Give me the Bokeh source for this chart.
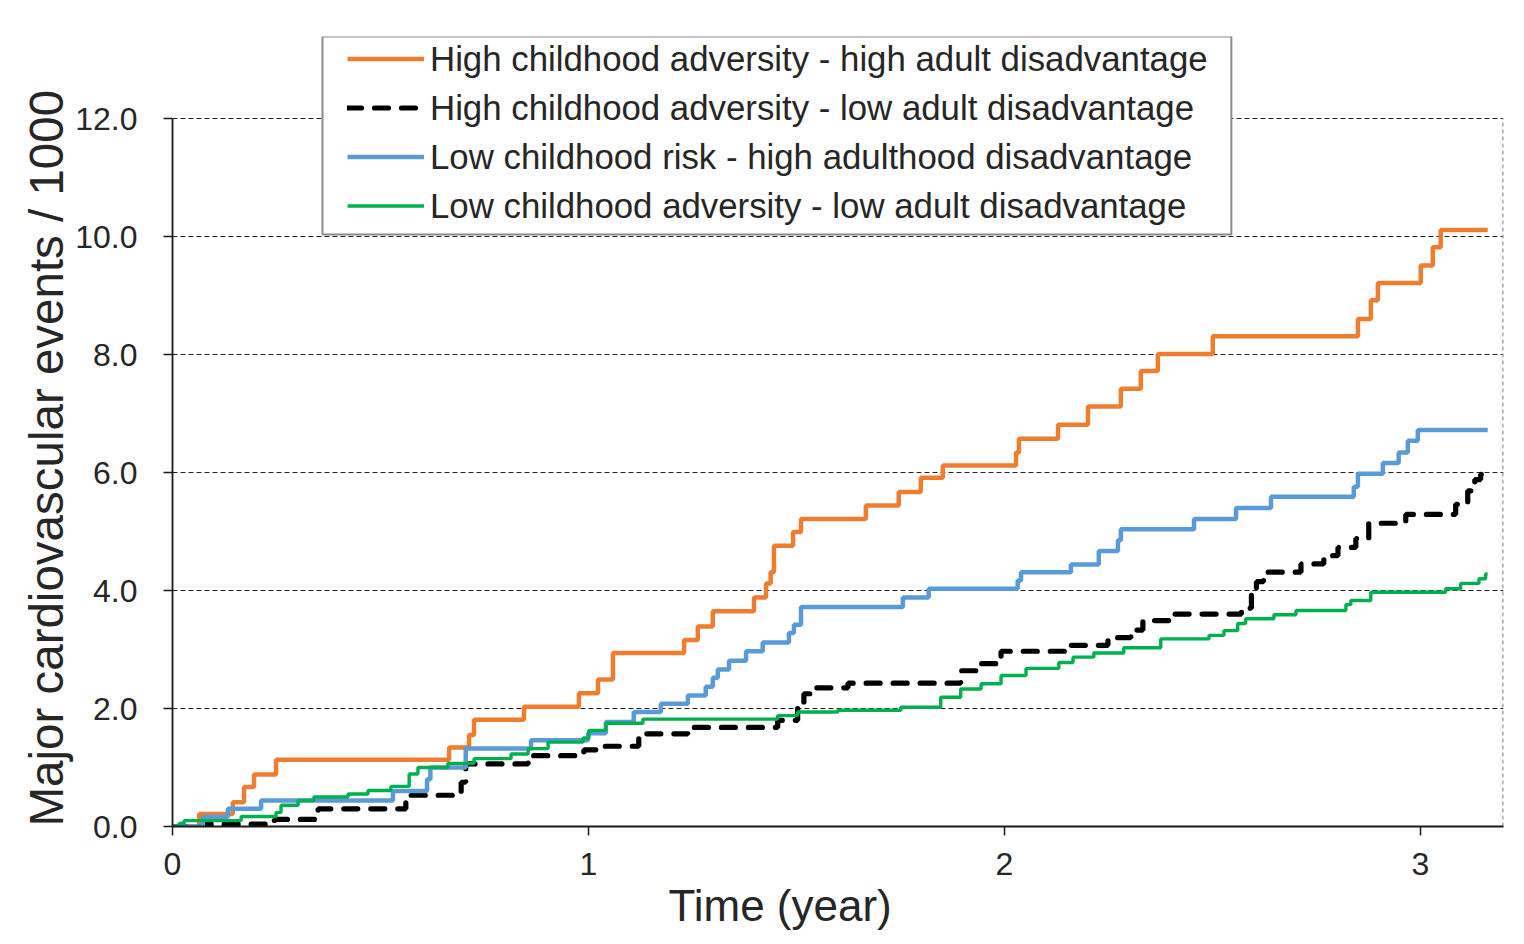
from bokeh.plotting import figure
from bokeh.models import (FixedTicker, PrintfTickFormatter, Legend, LegendItem,
                          BoxAnnotation, Title, Range1d)
from bokeh.embed import file_html
from bokeh.resources import INLINE

# ---------------- data ----------------
series_labels = [
    "High childhood adversity - high adult disadvantage",
    "High childhood adversity - low adult disadvantage",
    "Low childhood risk - high adulthood disadvantage",
    "Low childhood adversity - low adult disadvantage",
]

t_hh = [0, 0.064, 0.145, 0.172, 0.196, 0.249, 0.665, 0.713, 0.725, 0.845, 0.977,
        1.023, 1.059, 1.230, 1.263, 1.299, 1.398, 1.427, 1.438, 1.446, 1.492,
        1.511, 1.667, 1.746, 1.799, 1.852, 2.028, 2.035, 2.129, 2.201, 2.280,
        2.328, 2.369, 2.501, 2.850, 2.881, 2.898, 3.001, 3.030, 3.049, 3.162]
v_hh = [0, 0.21, 0.41, 0.67, 0.88, 1.13, 1.34, 1.55, 1.81, 2.03, 2.26,
        2.49, 2.94, 3.16, 3.39, 3.65, 3.88, 4.12, 4.31, 4.76, 4.99,
        5.21, 5.44, 5.67, 5.91, 6.12, 6.34, 6.57, 6.81, 7.12, 7.42,
        7.72, 8.01, 8.31, 8.60, 8.92, 9.21, 9.51, 9.82, 10.11, 10.11]

t_hl = [0, 0.076, 0.245, 0.350, 0.561, 0.694, 0.705, 0.855, 0.989, 1.030,
        1.121, 1.239, 1.455, 1.503, 1.518, 1.542, 1.624, 1.895, 1.944, 1.992,
        2.160, 2.249, 2.304, 2.333, 2.405, 2.570, 2.594, 2.606, 2.623, 2.713,
        2.768, 2.802, 2.845, 2.876, 2.965, 3.085, 3.114, 3.131, 3.145, 3.162]
v_hl = [0, 0.04, 0.12, 0.30, 0.53, 0.75, 1.06, 1.20, 1.30, 1.36,
        1.57, 1.68, 1.80, 2.05, 2.25, 2.35, 2.43, 2.64, 2.76, 2.97,
        3.07, 3.20, 3.33, 3.49, 3.60, 3.70, 3.93, 4.15, 4.31, 4.45,
        4.59, 4.73, 4.88, 5.14, 5.29, 5.46, 5.69, 5.88, 5.97, 5.97]

t_lh = [0, 0.073, 0.133, 0.213, 0.530, 0.612, 0.620, 0.705, 0.862, 0.999,
        1.042, 1.109, 1.174, 1.239, 1.282, 1.299, 1.311, 1.338, 1.379, 1.419,
        1.482, 1.494, 1.511, 1.756, 1.818, 2.032, 2.040, 2.160, 2.227, 2.273,
        2.280, 2.456, 2.557, 2.641, 2.840, 2.850, 2.910, 2.948, 2.970, 2.994, 3.162]
v_lh = [0, 0.16, 0.30, 0.44, 0.60, 0.80, 1.00, 1.32, 1.46, 1.58,
        1.77, 1.94, 2.08, 2.22, 2.37, 2.52, 2.66, 2.81, 2.97, 3.12,
        3.28, 3.42, 3.72, 3.88, 4.03, 4.17, 4.31, 4.44, 4.67, 4.85,
        5.04, 5.21, 5.40, 5.59, 5.76, 5.98, 6.16, 6.34, 6.54, 6.72, 6.72]

t_ll = [0, 0.016, 0.028, 0.165, 0.249, 0.261, 0.302, 0.340, 0.422, 0.470,
        0.525, 0.569, 0.590, 0.662, 0.725, 0.814, 0.855, 0.903, 0.987, 1.001,
        1.042, 1.131, 1.455, 1.503, 1.600, 1.751, 1.847, 1.895, 1.944, 1.992,
        2.052, 2.131, 2.165, 2.215, 2.287, 2.376, 2.492, 2.528, 2.561, 2.580,
        2.648, 2.701, 2.821, 2.833, 2.881, 3.061, 3.097, 3.141, 3.157, 3.162]
v_ll = [0, 0.05, 0.10, 0.17, 0.24, 0.36, 0.44, 0.50, 0.55, 0.61,
        0.68, 0.89, 1.00, 1.07, 1.15, 1.23, 1.32, 1.43, 1.50, 1.63,
        1.75, 1.82, 1.88, 1.94, 1.97, 2.02, 2.19, 2.33, 2.42, 2.56,
        2.68, 2.78, 2.87, 2.94, 3.03, 3.18, 3.24, 3.32, 3.44, 3.52,
        3.59, 3.66, 3.76, 3.83, 3.97, 4.03, 4.12, 4.20, 4.28, 4.28]

y_ticks = [0, 2, 4, 6, 8, 10, 12]
x_ticks = [0, 1, 2, 3]
x_title = "Time  (year)"
y_title = "Major cardiovascular events / 1000"

FONT = "Liberation Sans"
TXT = "#262626"

X_MAX = 3.2
Y_AXIS_MAX = 12
Y_VIEW_MAX = 13.39   # headroom above the axis so the legend box fits

# ---------------- figure ----------------
p = figure(width=1520, height=940, output_backend="svg", toolbar_location=None,
           x_range=Range1d(0, X_MAX), y_range=Range1d(0, Y_VIEW_MAX),
           min_border_left=172, min_border_right=17,
           min_border_top=36, min_border_bottom=114)
p.background_fill_color = "white"
p.border_fill_color = "white"
p.outline_line_color = None

# grid
p.xgrid.grid_line_color = None
p.ygrid.ticker = FixedTicker(ticks=y_ticks)
p.ygrid.grid_line_color = "#222222"
p.ygrid.grid_line_dash = "5 3"
p.ygrid.grid_line_width = 1.2

# right edge of plot area (dashed grey)
p.segment(x0=[X_MAX], y0=[0], x1=[X_MAX], y1=[Y_AXIS_MAX],
          line_color="#9a9a9a", line_dash="4 3", line_width=2.6)

# axes
for ax in (p.xaxis[0], p.yaxis[0]):
    ax.axis_line_color = "#1a1a1a"
    ax.axis_line_width = 1.8
    ax.major_tick_line_color = "#1a1a1a"
    ax.major_tick_line_width = 1.5
    ax.major_tick_out = 9
    ax.major_tick_in = 0
    ax.minor_tick_line_color = None
    ax.major_label_text_font = FONT
    ax.major_label_text_font_size = "32px"
    ax.major_label_text_color = TXT

p.xaxis.ticker = FixedTicker(ticks=x_ticks)
p.xaxis.major_label_standoff = 17
p.yaxis.ticker = FixedTicker(ticks=y_ticks)
p.yaxis.bounds = (0, Y_AXIS_MAX)
p.yaxis.formatter = PrintfTickFormatter(format="%.1f")
p.yaxis.major_label_standoff = 26

# series
r_hh = p.step(t_hh, v_hh, mode="after", line_color="#ED7D31", line_width=4.5)
r_hl = p.step(t_hl, v_hl, mode="after", line_color="#000000", line_width=5.2,
              line_dash="14 13", line_cap="round")
r_lh = p.step(t_lh, v_lh, mode="after", line_color="#5B9BD5", line_width=4.5)
r_ll = p.step(t_ll, v_ll, mode="after", line_color="#00B050", line_width=3.4)

# axis titles (placed as in the original: x title left of centre, y title from the axis bottom)
p.add_layout(Title(text=x_title, align="left", offset=496, standoff=3,
                   text_font=FONT, text_font_size="44px", text_font_style="normal",
                   text_color=TXT), "below")
p.add_layout(Title(text=y_title, align="left", offset=0, standoff=0,
                   text_font=FONT, text_font_size="47.5px", text_font_style="normal",
                   text_color=TXT), "left")

# legend box
p.add_layout(BoxAnnotation(left=0.3606, right=2.5457, bottom=10.034, top=13.39,
                           fill_color="white", fill_alpha=1.0,
                           line_color="#8c8c8c", line_width=2, line_alpha=1.0,
                           level="annotation"))

legend = Legend(items=[LegendItem(label=series_labels[0], renderers=[r_hh]),
                       LegendItem(label=series_labels[1], renderers=[r_hl]),
                       LegendItem(label=series_labels[2], renderers=[r_lh]),
                       LegendItem(label=series_labels[3], renderers=[r_ll])],
                location=(175, 596), padding=0, margin=0, spacing=0,
                glyph_width=77, glyph_height=49, label_height=49,
                label_standoff=6, label_text_font=FONT,
                label_text_font_size="34.8px", label_text_color=TXT,
                border_line_alpha=0, background_fill_alpha=0)
p.add_layout(legend)

open("out.html", "w").write(file_html(p, INLINE))
